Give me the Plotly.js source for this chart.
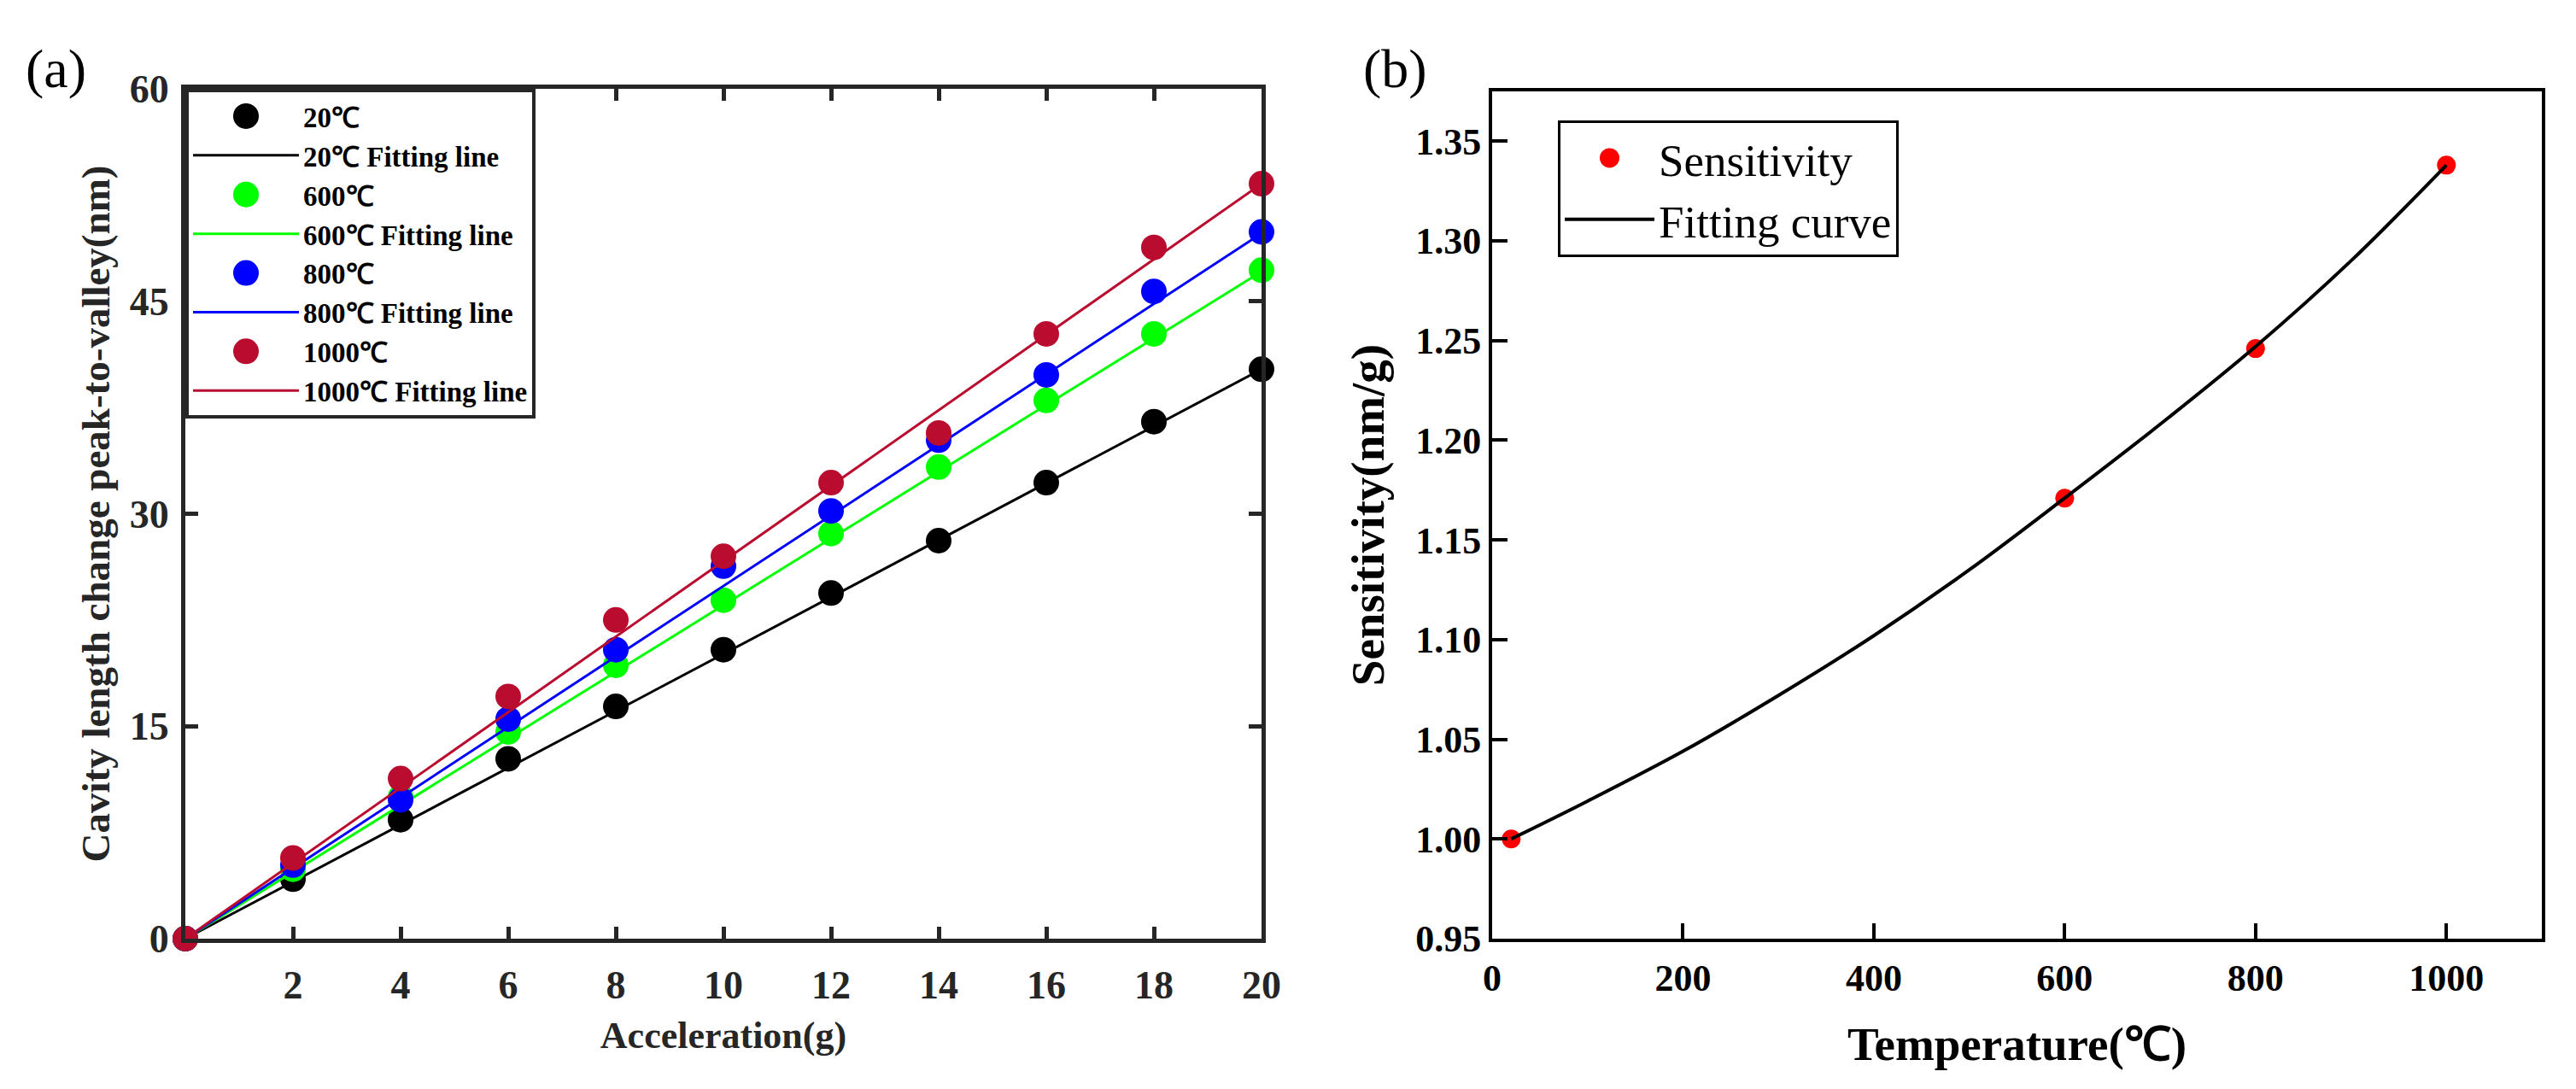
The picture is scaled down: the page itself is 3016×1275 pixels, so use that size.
<!DOCTYPE html>
<html>
<head>
<meta charset="utf-8">
<script src="https://cdn.plot.ly/plotly-3.0.1.min.js"></script>
<style>
  html, body { margin: 0; padding: 0; background: #ffffff; }
  #chart { width: 3016px; height: 1275px; }
</style>
</head>
<body>
<div id="chart"></div>
<script>
// ---------- Data ----------
// Panel (a): cavity length change peak-to-valley (nm) vs acceleration (g)
var accel = [0, 2, 4, 6, 8, 10, 12, 14, 16, 18, 20];
var cav20   = [0, 4.2, 8.4, 12.7, 16.4, 20.4, 24.4, 28.1, 32.2, 36.5, 40.2];
var cav600  = [0, 4.9, 10.0, 14.6, 19.3, 23.9, 28.6, 33.3, 38.0, 42.7, 47.2];
var cav800  = [0, 5.2, 9.8, 15.5, 20.4, 26.3, 30.2, 35.2, 39.8, 45.7, 49.9];
var cav1000 = [0, 5.7, 11.3, 17.1, 22.5, 27.0, 32.2, 35.7, 42.7, 48.8, 53.3];

// Fitting lines (end points)
var fitAccel  = [0, 20];
var fit20     = [0, 40.2];
var fit600    = [0, 47.1];
var fit800    = [0, 49.8];
var fit1000   = [0, 53.3];

var seriesNames = ['20\u2103', '600\u2103', '800\u2103', '1000\u2103'];
var fitNames = ['20\u2103 Fitting line', '600\u2103 Fitting line', '800\u2103 Fitting line', '1000\u2103 Fitting line'];

var accelTicks = [2, 4, 6, 8, 10, 12, 14, 16, 18, 20];
var cavTicks = [0, 15, 30, 45, 60];

// Panel (b): sensitivity (nm/g) vs temperature
var tempC = [20, 600, 800, 1000];
var sensitivity = [1.000, 1.171, 1.246, 1.338];
var curveTemp = [20, 100, 200, 300, 400, 500, 600, 700, 800, 900, 1000];
var curveSens = [1.000, 1.019, 1.044, 1.072, 1.102, 1.135, 1.171, 1.208, 1.247, 1.290, 1.338];

var tempTicks = [0, 200, 400, 600, 800, 1000];
var sensTicks = [0.95, 1.00, 1.05, 1.10, 1.15, 1.20, 1.25, 1.30, 1.35];
var sensTickText = ['0.95', '1.00', '1.05', '1.10', '1.15', '1.20', '1.25', '1.30', '1.35'];

// ---------- Styling ----------
var F = 'Liberation Serif, Times New Roman, serif';
var AX = '#262626';
var colors = ['#000000', '#00FF00', '#0000FF', '#BA0C2F'];
var cavSeries = [cav20, cav600, cav800, cav1000];
var fitSeries = [fit20, fit600, fit800, fit1000];

var W = 3016, H = 1275;
function px(x) { return x / W; }
function py(y) { return (H - y) / H; }

var data = [];
for (var i = 0; i < 4; i++) {
  data.push({
    type: 'scatter', mode: 'markers', name: seriesNames[i],
    x: accel, y: cavSeries[i], xaxis: 'x', yaxis: 'y',
    marker: { size: 30, color: colors[i] },
    cliponaxis: false, legend: 'legend'
  });
  data.push({
    type: 'scatter', mode: 'lines', name: fitNames[i],
    x: fitAccel, y: fitSeries[i], xaxis: 'x', yaxis: 'y',
    line: { color: colors[i], width: 3 },
    legend: 'legend'
  });
}
data.push({
  type: 'scatter', mode: 'markers', name: 'Sensitivity',
  x: tempC, y: sensitivity, xaxis: 'x2', yaxis: 'y2',
  marker: { size: 22, color: '#FF0000' },
  cliponaxis: false, legend: 'legend2'
});
data.push({
  type: 'scatter', mode: 'lines', name: 'Fitting curve',
  x: curveTemp, y: curveSens, xaxis: 'x2', yaxis: 'y2',
  line: { color: '#000000', width: 4, shape: 'spline', smoothing: 1 },
  legend: 'legend2'
});

var tickFontA = { family: F, size: 46, weight: 'bold', color: AX };
var tickFontB = { family: F, size: 44, weight: 'bold', color: '#000000' };

var layout = {
  width: W, height: H,
  margin: { l: 0, r: 0, t: 0, b: 0 },
  paper_bgcolor: '#ffffff', plot_bgcolor: '#ffffff',
  showlegend: true,
  xaxis: {
    domain: [px(217), px(1477)], anchor: 'y',
    range: [0, 20], tickmode: 'array', tickvals: accelTicks,
    ticks: 'inside', ticklen: 14, tickwidth: 5, tickcolor: AX,
    showline: true, linecolor: AX, linewidth: 5, mirror: 'ticks',
    showgrid: false, zeroline: false, tickfont: tickFontA, ticklabelstandoff: 10,
    title: { text: 'Acceleration(g)', font: { family: F, size: 44, weight: 'bold', color: AX }, standoff: 19 }
  },
  yaxis: {
    domain: [py(1099), py(104)], anchor: 'x',
    range: [0, 60], tickmode: 'array', tickvals: cavTicks,
    ticks: 'inside', ticklen: 15, tickwidth: 5, tickcolor: AX,
    showline: true, linecolor: AX, linewidth: 5, mirror: 'ticks',
    showgrid: false, zeroline: false, tickfont: tickFontA, ticklabelstandoff: 5,
    title: { text: 'Cavity length change peak-to-valley(nm)', font: { family: F, size: 47, weight: 'bold', color: AX }, standoff: 10 }
  },
  xaxis2: {
    domain: [px(1747), px(2976)], anchor: 'y2',
    range: [0, 1100], tickmode: 'array', tickvals: tempTicks,
    ticks: 'inside', ticklen: 18, tickwidth: 4, tickcolor: '#000000',
    showline: true, linecolor: '#000000', linewidth: 4, mirror: true,
    showgrid: false, zeroline: false, tickfont: tickFontB, ticklabelstandoff: 4,
    title: { text: 'Temperature(\u2103)', font: { family: F, size: 55, weight: 'bold', color: '#000000' }, standoff: 35 }
  },
  yaxis2: {
    domain: [py(1099), py(107)], anchor: 'x2',
    range: [0.95, 1.375], tickmode: 'array', tickvals: sensTicks, ticktext: sensTickText,
    ticks: 'inside', ticklen: 18, tickwidth: 4, tickcolor: '#000000',
    showline: true, linecolor: '#000000', linewidth: 4, mirror: true,
    showgrid: false, zeroline: false, tickfont: tickFontB,
    title: { text: 'Sensitivity(nm/g)', font: { family: F, size: 55, weight: 'bold', color: '#000000' }, standoff: 20 }
  },
  legend: {
    x: px(217), y: py(104), xanchor: 'left', yanchor: 'top',
    bgcolor: '#ffffff', bordercolor: AX, borderwidth: 4,
    font: { family: F, size: 33, weight: 'bold', color: '#000000' },
    itemwidth: 124, tracegroupgap: 0
  },
  legend2: {
    x: px(1824), y: py(141), xanchor: 'left', yanchor: 'top',
    bgcolor: '#ffffff', bordercolor: '#000000', borderwidth: 3,
    font: { family: F, size: 53, color: '#000000' },
    itemwidth: 105, tracegroupgap: 0
  },
  annotations: [
    { xref: 'paper', yref: 'paper', x: px(65), y: py(80), xanchor: 'center', yanchor: 'middle',
      text: '(a)', showarrow: false, font: { family: F, size: 64, color: '#000000' } },
    { xref: 'paper', yref: 'paper', x: px(1633), y: py(81), xanchor: 'center', yanchor: 'middle',
      text: '(b)', showarrow: false, font: { family: F, size: 64, color: '#000000' } }
  ]
};

function circlePath(r) {
  return 'M' + r + ',0A' + r + ',' + r + ' 0 1,1 0,-' + r + 'A' + r + ',' + r + ' 0 0,1 ' + r + ',0Z';
}

function enlargeLegendMarkers(gd) {
  var a = gd.querySelectorAll('g.legend path.scatterpts');
  for (var i = 0; i < a.length; i++) a[i].setAttribute('d', circlePath(15));
  var b = gd.querySelectorAll('g.legend2 path.scatterpts');
  for (var j = 0; j < b.length; j++) b[j].setAttribute('d', circlePath(11.5));
}

var gd = document.getElementById('chart');
Plotly.newPlot(gd, data, layout, { displayModeBar: false, staticPlot: true }).then(function () {
  enlargeLegendMarkers(gd);
});
</script>
</body>
</html>
